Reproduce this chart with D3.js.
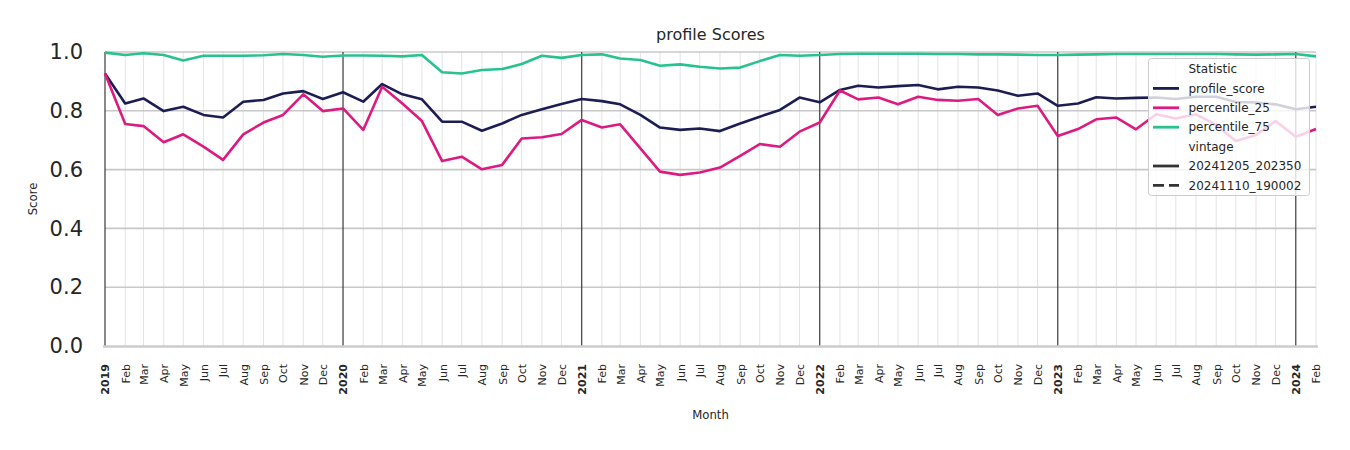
<!DOCTYPE html>
<html>
<head>
<meta charset="utf-8">
<script src="https://cdn.jsdelivr.net/npm/d3@7"></script>
<style>
  html, body { margin: 0; padding: 0; background: #fff; }
  svg { display: block; font-family: "DejaVu Sans", sans-serif; }
</style>
</head>
<body>
<svg id="chart" width="1350" height="450"></svg>
<script>
// ---- Data (monthly, Jan 2019 .. Feb 2024) ----
const startMonth = "2019-01";
const profileScore = [
  0.927, 0.825, 0.842, 0.799, 0.814, 0.786, 0.777, 0.831, 0.837, 0.859, 0.867, 0.840,
  0.863, 0.831, 0.891, 0.856, 0.839, 0.763, 0.763, 0.732, 0.757, 0.786, 0.805, 0.823,
  0.840, 0.833, 0.822, 0.786, 0.743, 0.735, 0.740, 0.731, 0.757, 0.780, 0.803, 0.845,
  0.829, 0.871, 0.885, 0.879, 0.884, 0.888, 0.873, 0.882, 0.879, 0.869, 0.851, 0.859,
  0.817, 0.825, 0.846, 0.842, 0.844, 0.845, 0.840, 0.848, 0.848, 0.830, 0.828, 0.822,
  0.805, 0.814
];
const percentile25 = [
  0.927, 0.755, 0.748, 0.693, 0.720, 0.678, 0.633, 0.720, 0.760, 0.786, 0.856, 0.799,
  0.808, 0.735, 0.882, 0.825, 0.765, 0.629, 0.644, 0.601, 0.616, 0.706, 0.710, 0.721,
  0.769, 0.743, 0.754, 0.672, 0.593, 0.582, 0.590, 0.607, 0.647, 0.687, 0.678, 0.729,
  0.760, 0.869, 0.839, 0.845, 0.822, 0.848, 0.837, 0.834, 0.840, 0.786, 0.808, 0.817,
  0.714, 0.738, 0.771, 0.777, 0.737, 0.788, 0.774, 0.788, 0.752, 0.697, 0.718, 0.765,
  0.712, 0.738
];
const percentile75 = [
  0.998, 0.990, 0.996, 0.990, 0.971, 0.987, 0.987, 0.987, 0.989, 0.993, 0.990, 0.984,
  0.988, 0.988, 0.987, 0.985, 0.990, 0.931, 0.927, 0.939, 0.942, 0.959, 0.987, 0.980,
  0.990, 0.992, 0.978, 0.973, 0.953, 0.958, 0.950, 0.944, 0.947, 0.969, 0.990, 0.987,
  0.990, 0.993, 0.994, 0.994, 0.994, 0.994, 0.993, 0.993, 0.992, 0.992, 0.991, 0.990,
  0.990, 0.991, 0.992, 0.993, 0.993, 0.993, 0.993, 0.993, 0.993, 0.992, 0.991, 0.992,
  0.993, 0.985
];
const seriesNames = ["profile_score", "percentile_25", "percentile_75"];
const seriesColors = ["#1c1d52", "#dc1b80", "#27c28f"];
const vintageNames = ["20241205_202350", "20241110_190002"];
const monthLabels = ["Jan","Feb","Mar","Apr","May","Jun","Jul","Aug","Sep","Oct","Nov","Dec"];
const yTicks = [0, 0.2, 0.4, 0.6, 0.8, 1.0];

// ---- Build ----
const parse = d3.utcParse("%Y-%m");
const t0 = parse(startMonth);
const months = profileScore.map((_, i) => d3.utcMonth.offset(t0, i));
const series = [profileScore, percentile25, percentile75].map((vals, k) => ({
  name: seriesNames[k], color: seriesColors[k],
  values: vals.map((v, i) => ({ date: months[i], v }))
}));

const svg = d3.select("#chart");
const pLeft = 105, pRight = 1316, pTop = 52, pBottom = 346;
const x = d3.scaleUtc().domain([months[0], months[months.length - 1]]).range([pLeft, pRight]);
const y = d3.scaleLinear().domain([0, 1]).range([pBottom, pTop]);

// month minor gridlines
svg.append("g").selectAll("line").data(months.filter(d => d.getUTCMonth() !== 0)).join("line")
  .attr("x1", d => x(d)).attr("x2", d => x(d)).attr("y1", pTop).attr("y2", pBottom)
  .attr("stroke", "#e3e3e3").attr("stroke-width", 1);

// horizontal gridlines
svg.append("g").selectAll("line").data(yTicks.slice(1)).join("line")
  .attr("x1", pLeft).attr("x2", pRight).attr("y1", d => y(d)).attr("y2", d => y(d))
  .attr("stroke", "#c8c8c8").attr("stroke-width", 1.6);

// year lines
svg.append("g").selectAll("line").data(months.filter(d => d.getUTCMonth() === 0)).join("line")
  .attr("x1", d => x(d)).attr("x2", d => x(d)).attr("y1", pTop).attr("y2", pBottom)
  .attr("stroke", "#3a3a3a").attr("stroke-width", 1.2);

// bottom axis line
svg.append("line").attr("x1", pLeft - 2).attr("x2", pRight + 2).attr("y1", pBottom + 0.5).attr("y2", pBottom + 0.5)
  .attr("stroke", "#cccccc").attr("stroke-width", 2.6);

// data lines
const line = d3.line().x(d => x(d.date)).y(d => y(d.v));
svg.append("g").selectAll("path").data(series).join("path")
  .attr("d", d => line(d.values)).attr("fill", "none")
  .attr("stroke", d => d.color).attr("stroke-width", 2.6)
  .attr("stroke-linejoin", "round").attr("stroke-linecap", "butt");

// y axis
const yAxis = svg.append("g").attr("transform", `translate(${pLeft},0)`)
  .call(d3.axisLeft(y).tickValues(yTicks).tickFormat(d3.format(".1f")).tickSize(0).tickPadding(22));
yAxis.select(".domain").remove();
yAxis.selectAll("text").attr("font-size", 21).attr("fill", "#262626")
  .attr("font-family", "DejaVu Sans, sans-serif");

// x axis
const xAxis = svg.append("g").attr("transform", `translate(0,${pBottom})`)
  .call(d3.axisBottom(x).tickValues(months).tickSize(0)
    .tickFormat(d => d.getUTCMonth() === 0 ? String(d.getUTCFullYear()) : monthLabels[d.getUTCMonth()]));
xAxis.select(".domain").remove();
xAxis.selectAll("text")
  .attr("transform", "rotate(-90)").attr("x", -18).attr("y", 0).attr("dy", "0.35em")
  .attr("text-anchor", "end").attr("font-size", 11).attr("fill", "#262626")
  .attr("font-family", "DejaVu Sans, sans-serif")
  .attr("font-weight", d => d.getUTCMonth() === 0 ? "bold" : "normal");

// labels
svg.append("text").attr("x", (pLeft + pRight) / 2).attr("y", 40).attr("text-anchor", "middle")
  .attr("font-size", 16).attr("fill", "#262626").text("profile Scores");
svg.append("text").attr("x", (pLeft + pRight) / 2).attr("y", 419).attr("text-anchor", "middle")
  .attr("font-size", 11.7).attr("fill", "#262626").text("Month");
svg.append("text").attr("transform", `translate(37,${(pTop + pBottom) / 2}) rotate(-90)`)
  .attr("text-anchor", "middle").attr("font-size", 11.7).attr("fill", "#262626").text("Score");

// legend
const lg = svg.append("g");
lg.append("rect").attr("x", 1148.5).attr("y", 58.5).attr("width", 161).attr("height", 137)
  .attr("rx", 3).attr("fill", "#fff").attr("fill-opacity", 0.8)
  .attr("stroke", "#cccccc").attr("stroke-width", 1);
const entries = [
  { label: "Statistic" },
  ...series.map(s => ({ label: s.name, color: s.color })),
  { label: "vintage" },
  { label: vintageNames[0], color: "#333333" },
  { label: vintageNames[1], color: "#333333", dash: "11,5" }
];
const rowY = i => 69 + i * 19.4;
entries.forEach((e, i) => {
  if (e.color) {
    lg.append("line").attr("x1", 1153).attr("x2", 1179).attr("y1", rowY(i)).attr("y2", rowY(i))
      .attr("stroke", e.color).attr("stroke-width", 2.8)
      .attr("stroke-dasharray", e.dash || null);
  }
  lg.append("text").attr("x", 1188.5).attr("y", rowY(i)).attr("dy", "0.35em")
    .attr("font-size", 12).attr("fill", "#262626").text(e.label);
});
</script>
</body>
</html>
